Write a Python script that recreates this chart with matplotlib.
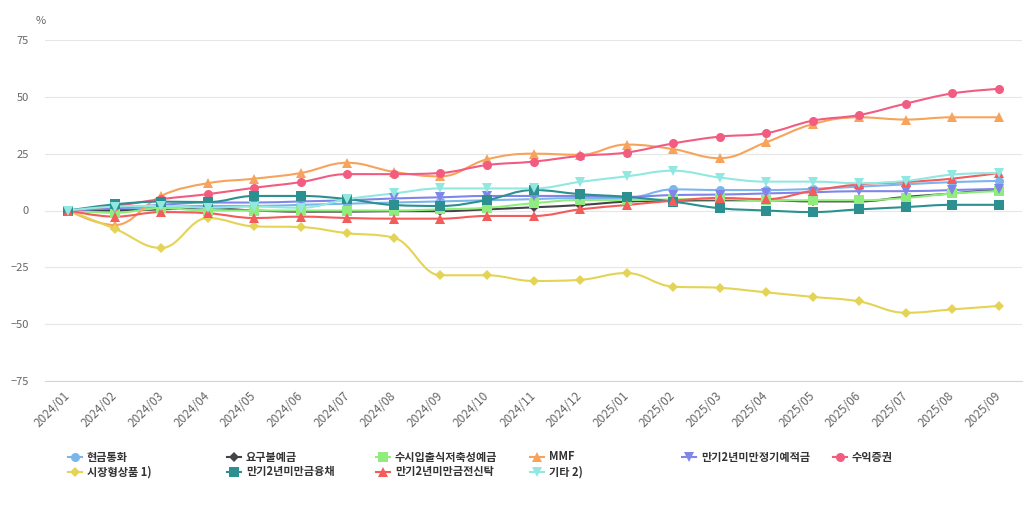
import matplotlib
matplotlib.use("Agg")
import matplotlib.pyplot as plt
from matplotlib.lines import Line2D
from matplotlib.patches import PathPatch
from matplotlib.path import Path

plt.rcParams["font.family"] = ["Noto Sans CJK KR", "DejaVu Sans"]

# ─── Data ────────────────────────────────────────────────────────────────────

months = ["2024/01", "2024/02", "2024/03", "2024/04", "2024/05", "2024/06",
          "2024/07", "2024/08", "2024/09", "2024/10", "2024/11", "2024/12",
          "2025/01", "2025/02", "2025/03", "2025/04", "2025/05", "2025/06",
          "2025/07", "2025/08", "2025/09"]

cash        = [0, 0.5, 1.5, 2, 2, 2.5, 3, 3.5, 4, 4.5, 5, 5.5, 5.5, 9.3, 9, 9, 9.5, 10.5, 11.5, 12.5, 13]
demand      = [0, 0, 0.5, 1, 0, -0.5, -0.5, -0.3, -0.3, 0.5, 1.4, 2.4, 3.9, 4.3, 4.5, 4.5, 4, 4, 6, 7.5, 9.5]
savings     = [0, -1, 1, 0, 0, 0, 0, 0, 0.5, 1.2, 3.2, 4.6, 4.6, 4.9, 5, 4.5, 4.5, 4.5, 5.5, 7.5, 8.5]
mmf         = [0, -6.4, 6.5, 12, 14, 16.5, 21, 17, 15, 22.5, 25, 24.5, 29, 27, 23, 30, 38, 41, 40, 41, 41]
time_dep    = [0, 1, 2.5, 3.5, 3.5, 4, 4.5, 5.3, 5.8, 6.4, 6.4, 6.4, 6, 6.8, 7, 7.5, 8, 8.5, 8.5, 9, 9.5]
beneficiary = [0, 2, 5, 7.2, 10, 12.5, 16, 16, 16.5, 20, 21.5, 24, 25.5, 29.5, 32.5, 34, 39.5, 42, 47, 51.5, 53.5]
marketable  = [0, -8, -16.5, -3.3, -7, -7.3, -10, -12, -28.5, -28.5, -31, -30.5, -27.5, -33.5, -34, -36, -38, -40, -45, -43.5, -42]
fin_bond    = [0, 2.7, 3.9, 3.7, 6.4, 6.4, 5, 2.4, 2, 4.6, 9, 7.2, 6, 3.9, 1, 0, -0.7, 0.5, 1.5, 2.5, 2.5]
money_trust = [0, -2.7, -0.7, -1.2, -3.3, -2.7, -3.3, -3.6, -3.6, -2.4, -2.4, 0.5, 2.4, 4.3, 5.5, 5, 8.7, 11.5, 12.5, 14, 16.5]
others      = [0, 1.7, 2, 1.2, 1.7, 1.2, 5, 7.5, 9.7, 9.7, 9.7, 12.6, 15, 17.5, 14.5, 12.7, 12.7, 12, 13, 15.8, 16.5]

series = [
    ("현금통화",             cash,        "#7cb5ec", "o"),
    ("요구불예금",           demand,      "#434348", "D"),
    ("수시입출식저축성예금", savings,     "#90ed7d", "s"),
    ("MMF",                  mmf,         "#f7a35c", "^"),
    ("만기2년미만정기예적금", time_dep,   "#8085e9", "v"),
    ("수익증권",             beneficiary, "#f15c80", "o"),
    ("시장형상품 1)",        marketable,  "#e4d354", "D"),
    ("만기2년미만금융채",    fin_bond,    "#2b908f", "s"),
    ("만기2년미만금전신탁",  money_trust, "#f45b5b", "^"),
    ("기타 2)",              others,      "#91e8e1", "v"),
]

yticks = [-75, -50, -25, 0, 25, 50, 75]

W, H = 1032, 508
TXT  = "#666666"
GRID = "#e6e6e6"


def spline_path(xs, ys, smoothing=1.5):
    """Highcharts-style spline through the points, as a bezier path."""
    n = len(xs)
    verts = [(xs[0], ys[0])]
    codes = [Path.MOVETO]
    prev_r = (xs[0], ys[0])
    denom = smoothing + 1
    for i in range(1, n):
        x, y = xs[i], ys[i]
        if i < n - 1:
            lx, ly = xs[i - 1], ys[i - 1]
            nx, ny = xs[i + 1], ys[i + 1]
            lcx = (smoothing * x + lx) / denom
            lcy = (smoothing * y + ly) / denom
            rcx = (smoothing * x + nx) / denom
            rcy = (smoothing * y + ny) / denom
            corr = (rcy - lcy) * (rcx - x) / (rcx - lcx) + y - rcy
            lcy += corr
            rcy += corr
            if lcy > ly and lcy > y:
                lcy = max(ly, y); rcy = 2 * y - lcy
            elif lcy < ly and lcy < y:
                lcy = min(ly, y); rcy = 2 * y - lcy
            if rcy > ny and rcy > y:
                rcy = max(ny, y); lcy = 2 * y - rcy
            elif rcy < ny and rcy < y:
                rcy = min(ny, y); lcy = 2 * y - rcy
        else:
            lcx, lcy, rcx, rcy = x, y, x, y
        verts += [prev_r, (lcx, lcy), (x, y)]
        codes += [Path.CURVE4] * 3
        prev_r = (rcx, rcy)
    return Path(verts, codes)


fig = plt.figure(figsize=(W / 100, H / 100), dpi=100, facecolor="white")
ax = fig.add_axes([45 / W, 1 - 381 / H, (1022 - 45) / W, (381 - 40) / H])

x = list(range(len(months)))
for name, vals, col, mk in series:
    ax.add_patch(PathPatch(spline_path(x, vals), fill=False, edgecolor=col,
                           linewidth=1.5, capstyle="round", joinstyle="round", zorder=3))
    ax.plot(x, vals, linestyle="none", marker=mk, color=col,
            markersize=6.5 if mk != "D" else 5, markeredgewidth=0, zorder=4)

ax.set_xlim(-0.5, len(months) - 0.5)
ax.set_ylim(yticks[0], yticks[-1])
ax.set_yticks(yticks)
ax.set_yticklabels([str(v).replace("-", "\u2212") for v in yticks])
ax.set_xticks(x)
ax.set_xticklabels(months, rotation=45, ha="right", va="center",
                   rotation_mode="anchor")
ax.tick_params(axis="y", length=0, pad=11.5, labelsize=8, labelcolor=TXT)
ax.tick_params(axis="x", length=0, pad=9, labelsize=8.5, labelcolor=TXT)
ax.grid(axis="y", color=GRID, linewidth=0.8)
ax.set_axisbelow(True)
for side in ["top", "right", "left"]:
    ax.spines[side].set_visible(False)
ax.spines["bottom"].set_color("#ccd6eb")
ax.spines["bottom"].set_linewidth(0.8)

fig.text(41 / W, 1 - 21 / H, "%", color=TXT, fontsize=8, ha="center", va="center")

# Legend, laid out by hand like the original
col_x = [75, 234, 383, 537, 689, 840]
row_y = [457, 472]
slots = [(0, 0), (1, 0), (2, 0), (3, 0), (4, 0), (5, 0),
         (0, 1), (1, 1), (2, 1), (3, 1)]
for (name, vals, col, mk), (ci, ri) in zip(series, slots):
    cx, cy = col_x[ci], row_y[ri]
    fy = 1 - cy / H
    fig.add_artist(Line2D([(cx - 7) / W, (cx + 7) / W], [fy, fy],
                          transform=fig.transFigure, color=col, linewidth=1.5))
    fig.add_artist(Line2D([cx / W], [fy], transform=fig.transFigure,
                          marker=mk, color=col, markeredgewidth=0,
                          markersize=6.5 if mk != "D" else 5))
    fig.text((cx + 12) / W, fy, name, color="#333333", fontsize=8,
             fontweight="bold", ha="left", va="center")

fig.savefig("out.png", dpi=100, facecolor="white")
